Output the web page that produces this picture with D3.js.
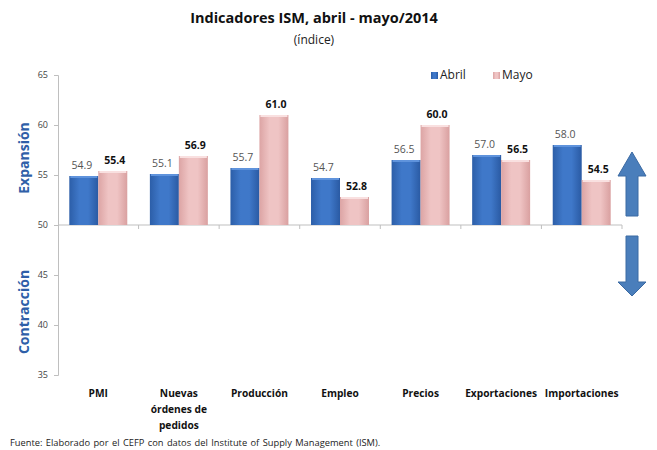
<!DOCTYPE html>
<html>
<head>
<meta charset="utf-8">
<script src="https://cdn.jsdelivr.net/npm/d3@7"></script>
<style>
  body { margin: 0; background: #fff; }
  text { font-family: "Open Sans", "DejaVu Sans", sans-serif; }
</style>
</head>
<body>
<div id="chart"></div>
<script>
// data
const categories = ["PMI", "Nuevas órdenes de pedidos", "Producción", "Empleo", "Precios", "Exportaciones", "Importaciones"];
const catLines = [["PMI"], ["Nuevas", "órdenes de", "pedidos"], ["Producción"], ["Empleo"], ["Precios"], ["Exportaciones"], ["Importaciones"]];
const abril = [54.9, 55.1, 55.7, 54.7, 56.5, 57.0, 58.0];
const mayo = [55.4, 56.9, 61.0, 52.8, 60.0, 56.5, 54.5];
const yTicks = [35, 40, 45, 50, 55, 60, 65];
const seriesNames = ["Abril", "Mayo"];

const width = 657, height = 450;
const margin = {top: 75, right: 35, bottom: 75, left: 58};

const svg = d3.select("#chart").append("svg")
  .attr("width", width)
  .attr("height", height);

const defs = svg.append("defs");
// bar gradients, lighter in the middle like the original 3D-ish bars
function hGrad(id, stops) {
  const g = defs.append("linearGradient").attr("id", id)
    .attr("x1", "0%").attr("x2", "100%").attr("y1", "0%").attr("y2", "0%");
  stops.forEach(s => g.append("stop").attr("offset", s[0]).attr("stop-color", s[1]));
}
hGrad("gBlue", [["0%", "#2c5ea8"], ["35%", "#3f78c9"], ["65%", "#3f78c9"], ["100%", "#2a5aa3"]]);
hGrad("gPink", [["0%", "#dca4a4"], ["35%", "#efc4c4"], ["65%", "#efc4c4"], ["100%", "#d9a0a0"]]);

const x = d3.scaleBand()
  .domain(categories)
  .range([margin.left, width - margin.right])
  .paddingInner(0)
  .paddingOuter(0);

const y = d3.scaleLinear()
  .domain([35, 65])
  .range([height - margin.bottom, margin.top]);

const inner = d3.scaleBand()
  .domain(seriesNames)
  .range([0, x.bandwidth()])
  .paddingInner(0)
  .paddingOuter(0.39);

// title
svg.append("text")
  .attr("x", 314).attr("y", 23)
  .attr("text-anchor", "middle")
  .attr("font-size", 14.5).attr("font-weight", "bold").attr("fill", "#111")
  .text("Indicadores ISM, abril - mayo/2014");
svg.append("text")
  .attr("x", 314).attr("y", 44)
  .attr("text-anchor", "middle")
  .attr("font-size", 12).attr("fill", "#222")
  .text("(índice)");

// y axis
const yAxis = svg.append("g")
  .attr("transform", `translate(${margin.left},0)`)
  .call(d3.axisLeft(y).tickValues(yTicks).tickSize(4).tickPadding(6));
yAxis.select(".domain").attr("stroke", "#bfbfbf");
yAxis.selectAll(".tick line").attr("stroke", "#bfbfbf");
yAxis.selectAll(".tick text")
  .attr("font-size", 9).attr("fill", "#444")
  .attr("font-family", "'Open Sans', sans-serif");

// x axis sits on 50
const xAxisG = svg.append("g").attr("transform", `translate(0,${y(50)})`);
xAxisG.append("line")
  .attr("x1", margin.left).attr("x2", width - margin.right)
  .attr("stroke", "#bfbfbf");
xAxisG.selectAll("line.tk")
  .data(categories.slice(1).concat(["end"]))
  .join("line")
  .attr("class", "tk")
  .attr("x1", d => d === "end" ? width - margin.right : x(d))
  .attr("x2", d => d === "end" ? width - margin.right : x(d))
  .attr("y1", 0).attr("y2", 4)
  .attr("stroke", "#bfbfbf");

// bars
const rows = categories.map((c, i) => ({cat: c, vals: [abril[i], mayo[i]]}));
const groups = svg.append("g").selectAll("g")
  .data(rows)
  .join("g")
  .attr("transform", d => `translate(${x(d.cat)},0)`);

const bars = groups.selectAll("g.bar")
  .data(d => d.vals.map((v, j) => ({name: seriesNames[j], v: v})))
  .join("g").attr("class", "bar");

bars.append("rect")
  .attr("x", d => inner(d.name))
  .attr("width", inner.bandwidth())
  .attr("y", d => Math.min(y(d.v), y(50)))
  .attr("height", d => Math.abs(y(50) - y(d.v)))
  .attr("fill", d => d.name === "Abril" ? "url(#gBlue)" : "url(#gPink)");
// light bevel on top
bars.append("rect")
  .attr("x", d => inner(d.name) + 1)
  .attr("width", inner.bandwidth() - 2)
  .attr("y", d => y(d.v))
  .attr("height", 2)
  .attr("fill", d => d.name === "Abril" ? "#5f93dc" : "#f9e0e0");

bars.append("text")
  .attr("x", d => inner(d.name) + inner.bandwidth() / 2 + (d.name === "Abril" ? -2 : 2))
  .attr("y", d => y(d.v) - 7)
  .attr("text-anchor", "middle")
  .attr("font-size", 10.5)
  .attr("font-weight", d => d.name === "Mayo" ? "bold" : "normal")
  .attr("fill", d => d.name === "Mayo" ? "#111" : "#555")
  .text(d => d3.format(".1f")(d.v));

// category labels
const catLabels = svg.append("g").selectAll("text")
  .data(categories)
  .join("text")
  .attr("x", d => x(d) + x.bandwidth() / 2)
  .attr("y", 397)
  .attr("text-anchor", "middle")
  .attr("font-size", 10.2).attr("font-weight", "bold").attr("fill", "#111");
catLabels.each(function(d, i) {
  d3.select(this).selectAll("tspan")
    .data(catLines[i])
    .join("tspan")
    .attr("x", x(d) + x.bandwidth() / 2)
    .attr("dy", (t, k) => k === 0 ? 0 : 16)
    .text(t => t);
});

// side labels
svg.append("text")
  .attr("transform", `translate(29,${(y(65) + y(50)) / 2 + 8}) rotate(-90)`)
  .attr("text-anchor", "middle")
  .attr("font-size", 14).attr("font-weight", "bold").attr("fill", "#2f5fa8")
  .text("Expansión");
svg.append("text")
  .attr("transform", `translate(29,${(y(50) + y(35)) / 2 + 12}) rotate(-90)`)
  .attr("text-anchor", "middle")
  .attr("font-size", 14).attr("font-weight", "bold").attr("fill", "#2f5fa8")
  .text("Contracción");

// legend
const legend = svg.append("g").attr("transform", "translate(431,69)");
seriesNames.forEach((s, i) => {
  const lg = legend.append("g").attr("transform", `translate(${i * 62},0)`);
  lg.append("rect").attr("width", 7).attr("height", 7).attr("y", 3)
    .attr("fill", i === 0 ? "url(#gBlue)" : "url(#gPink)");
  lg.append("text").attr("x", 9).attr("y", 10)
    .attr("font-size", 12).attr("fill", "#222").text(s);
});

// arrows (decorative), anchored on the value scale
const ax = 632;
const upArrow = d3.path();
upArrow.moveTo(ax, y(57.3));
upArrow.lineTo(ax + 14, y(54.9));
upArrow.lineTo(ax + 6, y(54.9));
upArrow.lineTo(ax + 6, y(50.9));
upArrow.lineTo(ax - 6, y(50.9));
upArrow.lineTo(ax - 6, y(54.9));
upArrow.lineTo(ax - 14, y(54.9));
upArrow.closePath();
const downArrow = d3.path();
downArrow.moveTo(ax - 6, y(48.9));
downArrow.lineTo(ax + 6, y(48.9));
downArrow.lineTo(ax + 6, y(44.3));
downArrow.lineTo(ax + 14, y(44.3));
downArrow.lineTo(ax, y(42.9));
downArrow.lineTo(ax - 14, y(44.3));
downArrow.lineTo(ax - 6, y(44.3));
downArrow.closePath();
[upArrow, downArrow].forEach(p => {
  svg.append("path").attr("d", p.toString())
    .attr("fill", "#4a7ebb").attr("stroke", "#3b6aa3").attr("stroke-width", 1);
});

// source note
svg.append("text")
  .attr("x", 10).attr("y", 446)
  .attr("font-size", 9.3).attr("fill", "#222")
  .attr("word-spacing", 1)
  .text("Fuente: Elaborado por el CEFP con datos del Institute of Supply Management (ISM).");
</script>
</body>
</html>
